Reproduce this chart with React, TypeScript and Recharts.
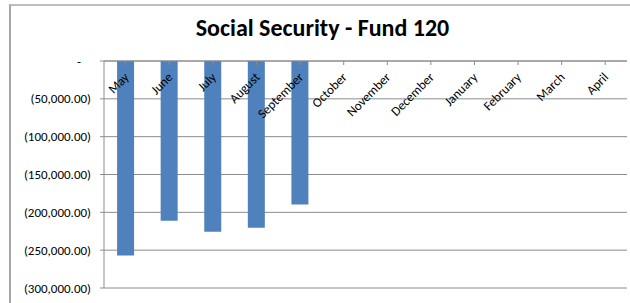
import { Bar, BarChart, CartesianGrid, XAxis, YAxis } from "recharts";

const months = [
  "May",
  "June",
  "July",
  "August",
  "September",
  "October",
  "November",
  "December",
  "January",
  "February",
  "March",
  "April",
];

// only the first five months have posted amounts
const amounts: (number | null)[] = [-257000, -211000, -225500, -220500, -189500, null, null, null, null, null, null, null];

const yTicks = [0, -50000, -100000, -150000, -200000, -250000, -300000];

const data = months.map((month, i) => ({ month, amount: amounts[i] }));

const FONT = "Calibri, Carlito, Lato, 'Open Sans', sans-serif";

function formatAccounting(v: number) {
  if (v === 0) return "-";
  const s = Math.abs(v).toLocaleString("en-US", { minimumFractionDigits: 2, maximumFractionDigits: 2 });
  return v < 0 ? `(${s})` : s;
}

function MonthTick({ x, y, payload }: any) {
  return (
    <text
      x={x + 4}
      y={y}
      transform={`rotate(-45, ${x + 4}, ${y})`}
      textAnchor="end"
      fontSize={13}
      fontFamily={FONT}
      fill="#000"
    >
      {payload.value}
    </text>
  );
}

function AmountTick({ x, y, payload }: any) {
  const zero = payload.value === 0;
  return (
    <text x={zero ? x - 10 : x} y={y} dy={4.5} textAnchor="end" fontSize={13} fontFamily={FONT} fill="#000">
      {formatAccounting(payload.value)}
    </text>
  );
}

export default function App() {
  return (
    <div style={{ position: "absolute", left: 0, top: 0, width: 630, height: 303, background: "#fff", overflow: "hidden" }}>
      <div
        style={{
          position: "absolute",
          left: 9,
          top: 4,
          width: 700,
          height: 400,
          borderLeft: "2px solid #a6a6a6",
          borderTop: "2px solid #bdbdbd",
        }}
      />
      <div
        style={{
          position: "absolute",
          left: 0,
          top: 14,
          width: 645,
          textAlign: "center",
          fontFamily: FONT,
          fontWeight: 700,
          fontSize: 24,
          lineHeight: "28px",
          color: "#000",
        }}
      >
        Social Security - Fund 120
      </div>
      <BarChart
        width={630}
        height={303}
        data={data}
        margin={{ top: 41, right: 3, bottom: 15, left: 0 }}
        barCategoryGap="30%"
        style={{ position: "absolute", left: 0, top: 0 }}
      >
        <CartesianGrid vertical={false} stroke="#8c8c8c" />
        <XAxis
          dataKey="month"
          orientation="top"
          height={20}
          interval={0}
          axisLine={{ stroke: "#8c8c8c" }}
          tickLine={{ stroke: "#8c8c8c" }}
          tickSize={-4}
          tickMargin={-13}
          tick={<MonthTick />}
        />
        <YAxis
          type="number"
          domain={[-300000, 0]}
          ticks={yTicks}
          width={104}
          interval={0}
          axisLine={{ stroke: "#8c8c8c" }}
          tickLine={{ stroke: "#8c8c8c" }}
          tickSize={4}
          tickMargin={9}
          tick={<AmountTick />}
        />
        <Bar dataKey="amount" fill="#4f81bd" isAnimationActive={false} />
      </BarChart>
    </div>
  );
}
